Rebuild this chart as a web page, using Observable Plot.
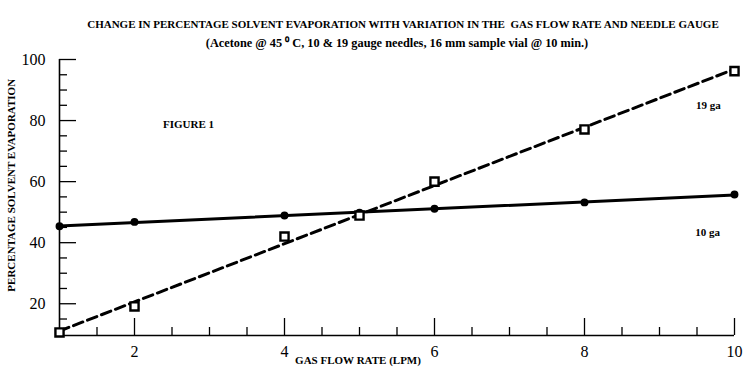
<!DOCTYPE html>
<html>
<head>
<meta charset="utf-8">
<script src="https://cdn.jsdelivr.net/npm/d3@7"></script>
<script src="https://cdn.jsdelivr.net/npm/@observablehq/plot@0.6"></script>
<style>
  html, body { margin: 0; padding: 0; background: #fff; }
</style>
</head>
<body>
<div id="chart"></div>
<script>
const flowRate = [1, 2, 4, 5, 6, 8, 10];
const evap10ga = [45.4, 46.8, 48.9, 49.8, 51.1, 53.2, 55.8];
const evap19ga = [10.6, 19.1, 42.0, 48.9, 60.0, 77.1, 96.2];

const xMajorTicks = [2, 4, 6, 8, 10];
const xMinorTicks = [1.5, 2.5, 3, 3.5, 4.5, 5, 5.5, 6.5, 7, 7.5, 8.5, 9, 9.5];
const yMajorTicks = [20, 40, 60, 80, 100];
const yMinorTicks = [15, 25, 30, 35, 45, 50, 55, 65, 70, 75, 85, 90, 95];

const titleText = "CHANGE IN PERCENTAGE SOLVENT EVAPORATION WITH VARIATION IN THE  GAS FLOW RATE AND NEEDLE GAUGE";
const subtitleText = "(Acetone @ 45 \u2070 C, 10 & 19 gauge needles, 16 mm sample vial @ 10 min.)";
const xLabel = "GAS FLOW RATE (LPM)";
const yLabel = "PERCENTAGE SOLVENT EVAPORATION";

const data10 = flowRate.map((x, i) => ({x, y: evap10ga[i]}));
const data19 = flowRate.map((x, i) => ({x, y: evap19ga[i]}));

const bold = {fontSize: 11, fontWeight: "bold", fill: "black"};

const chart = Plot.plot({
  width: 743,
  height: 373,
  marginLeft: 59,
  marginRight: 9,
  marginTop: 59,
  marginBottom: 38,
  style: {fontFamily: "'Liberation Serif', 'Times New Roman', serif", fontSize: "16px", color: "black", background: "white"},
  x: {domain: [1, 10]},
  y: {domain: [9.6, 100]},
  marks: [
    Plot.axisX(xMajorTicks, {tickSize: -17, tickPadding: 27, strokeWidth: 1.3, label: null, fill: "black"}),
    Plot.axisX(xMinorTicks, {tickSize: -8, text: null, strokeWidth: 1.3, label: null}),
    Plot.axisY(yMajorTicks, {tickSize: -17, tickPadding: 31, strokeWidth: 1.3, label: null, fill: "black"}),
    Plot.axisY(yMinorTicks, {tickSize: -8, text: null, strokeWidth: 1.3, label: null}),
    Plot.ruleX([1], {strokeWidth: 1.6}),
    Plot.ruleY([9.6], {strokeWidth: 1.6}),
    Plot.linearRegressionY(data10, {x: "x", y: "y", ci: 0, stroke: "black", strokeWidth: 3}),
    Plot.linearRegressionY(data19, {x: "x", y: "y", ci: 0, stroke: "black", strokeWidth: 3, strokeDasharray: "10,5"}),
    Plot.dot(data10, {x: "x", y: "y", r: 3.2, fill: "black", stroke: "black", strokeWidth: 1.5}),
    Plot.dot(data19, {x: "x", y: "y", symbol: "square", r: 4.6, fill: "white", stroke: "black", strokeWidth: 2.4}),
    Plot.text([titleText], {frameAnchor: "top", dx: 6, dy: -39, ...bold}),
    Plot.text([subtitleText], {frameAnchor: "top", dx: 0, dy: -21, ...bold, fontSize: 12.3}),
    Plot.text([xLabel], {frameAnchor: "bottom", dx: -39, dy: 28, ...bold}),
    Plot.text([yLabel], {x: [0.36], y: [58.8], rotate: -90, ...bold}),
    Plot.text(["FIGURE 1"], {x: [2.72], y: [78.8], ...bold}),
    Plot.text(["19 ga"], {x: [9.65], y: [85], ...bold}),
    Plot.text(["10 ga"], {x: [9.64], y: [43.4], ...bold})
  ]
});

document.getElementById("chart").appendChild(chart);
</script>
</body>
</html>
